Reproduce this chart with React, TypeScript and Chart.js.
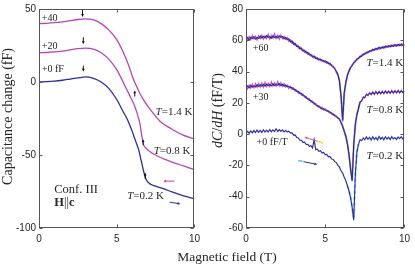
import React, { useEffect, useRef } from 'react';
import { Chart, registerables } from 'chart.js';

Chart.register(...registerables);

const SERIF = '"Liberation Serif", "DejaVu Serif", serif';
const SANS = '"Liberation Sans", Arial, sans-serif';
const INK = '#262626';
const BLUE = '#2b2d9e';
const MAGENTA = '#b545b8';
const PINK = '#c64fb2';
const CYAN = '#86d4f4';
const YELLOW = '#f1e24a';

// ---------- Left panel: capacitance change (fF) vs field (T) ----------
const L_X_14 = [0, 0.5, 1, 1.5, 2, 2.5, 3, 3.5, 4, 4.5, 5, 5.5, 5.8, 6.0, 6.15, 6.3, 6.5, 6.8, 7.2, 7.8, 8.5, 9.2, 10];
const L_Y_14 = [40, 40.2, 40.6, 41.2, 42, 42.8, 43.2, 42.5, 40, 35.5, 29, 18.5, 10.5, 4, 0, -3.5, -8, -13.5, -19.5, -27, -32, -36, -39];

const L_X_08 = [0, 0.5, 1, 1.5, 2, 2.5, 3, 3.5, 4, 4.5, 5, 5.5, 5.8, 6.1, 6.3, 6.5, 6.6, 6.7, 6.85, 7.0, 7.4, 8.0, 8.6, 9.3, 10];
const L_Y_08 = [20, 20.2, 20.6, 21.2, 22, 22.8, 23.2, 22.5, 20, 15.5, 8.5, -2, -8.5, -15, -21, -29, -36, -42, -45, -46.5, -49.5, -52.5, -55, -57.5, -60];

const L_X_02 = [0, 0.5, 1, 1.5, 2, 2.5, 3, 3.5, 4, 4.5, 5, 5.4, 5.7, 6.0, 6.2, 6.4, 6.6, 6.75, 6.9, 7.1, 7.4, 8.0, 8.6, 9.3, 10];
const L_Y_02 = [0, 0.2, 0.6, 1.2, 2, 2.8, 3.5, 2.5, 0, -4.5, -12, -20, -26, -34, -40, -46, -55, -62, -67, -69.5, -71, -73, -75.5, -78, -80];

const L_X_TICKS = [0, 5, 10];
const L_Y_TICKS = [-100, -50, 0, 50];

// ---------- Right panel: dC/dH (fF/T) vs field (T) ----------
const FIELD = [
  0, 0.1, 0.2, 0.3, 0.4, 0.5, 0.6, 0.7, 0.8, 0.9,
  1, 1.1, 1.2, 1.3, 1.4, 1.5, 1.6, 1.7, 1.8, 1.9,
  2, 2.1, 2.2, 2.3, 2.4, 2.5, 2.6, 2.7, 2.8, 2.9,
  3, 3.1, 3.2, 3.3, 3.4, 3.5, 3.6, 3.7, 3.8, 3.9,
  4, 4.1, 4.2, 4.3, 4.4, 4.5, 4.6, 4.7, 4.8, 4.9,
  5, 5.1, 5.2, 5.3, 5.4, 5.5, 5.6, 5.7, 5.8, 5.9,
  6, 6.1, 6.2, 6.3, 6.4, 6.5, 6.6, 6.7, 6.8, 6.9,
  7, 7.1, 7.2, 7.3, 7.4, 7.5, 7.6, 7.7, 7.8, 7.9,
  8, 8.1, 8.2, 8.3, 8.4, 8.5, 8.6, 8.7, 8.8, 8.9,
  9, 9.1, 9.2, 9.3, 9.4, 9.5, 9.6, 9.7, 9.8, 9.9,
  10,
];

// T = 1.4 K (+60), up sweep (blue) and down sweep (magenta)
const R_UP_14 = [
  60.5, 61.8, 60.2, 62.0, 61.0, 62.3, 60.8, 61.9, 61.2, 62.8,
  61.4, 62.5, 61.6, 63.0, 61.8, 62.4, 61.3, 62.9, 61.7, 62.6,
  61.5, 62.8, 61.9, 62.4, 60.9, 61.8, 60.3, 60.9, 59.0, 59.6,
  57.4, 58.0, 56.0, 56.4, 54.5, 55.0, 53.0, 53.6, 51.8, 52.3,
  50.6, 51.0, 49.3, 49.9, 48.4, 48.8, 47.4, 48.0, 46.7, 47.1,
  45.9, 46.5, 45.0, 45.3, 43.6, 43.4, 41.8, 40.2, 38.3, 33.6,
  24.5, 9.0, 26.5, 32.6, 37.9, 40.2, 42.9, 43.6, 45.9, 46.3,
  48.2, 48.2, 49.9, 49.7, 51.3, 51.0, 52.4, 52.0, 53.4, 52.9,
  54.3, 53.6, 54.9, 54.1, 55.6, 54.7, 55.9, 55.0, 56.3, 55.5,
  56.6, 55.8, 56.9, 56.1, 57.2, 56.3, 57.4, 56.5, 57.6, 56.6,
  57.3,
];
const R_DOWN_14 = [
  62.0, 59.8, 62.5, 60.4, 63.2, 60.9, 62.7, 60.1, 63.0, 61.0,
  63.4, 60.7, 62.9, 61.1, 64.0, 60.8, 63.1, 61.2, 64.2, 61.0,
  63.3, 60.6, 63.5, 61.0, 62.6, 60.5, 61.8, 59.2, 60.3, 57.9,
  58.9, 56.6, 57.3, 55.0, 55.9, 53.7, 54.3, 52.3, 53.0, 51.0,
  51.7, 49.8, 50.4, 48.6, 49.4, 47.6, 48.5, 46.9, 47.6, 46.2,
  47.0, 45.2, 45.9, 44.2, 44.6, 42.4, 42.3, 39.6, 37.6, 34.5,
  23.5, 8.0, 25.5, 33.5, 37.0, 41.0, 42.0, 44.6, 45.1, 47.2,
  47.3, 49.1, 48.9, 50.7, 50.4, 51.9, 51.5, 53.0, 52.5, 53.8,
  53.2, 54.6, 53.8, 55.2, 54.3, 55.6, 54.9, 56.1, 55.2, 56.5,
  55.6, 56.8, 55.9, 57.1, 56.2, 57.3, 56.4, 57.6, 56.5, 57.7,
  56.6,
];

// T = 0.8 K (+30)
const R_UP_08 = [
  29.5, 30.8, 29.6, 31.2, 30.0, 31.0, 30.2, 31.6, 30.4, 31.5,
  30.6, 31.8, 30.7, 32.0, 30.9, 31.8, 30.8, 32.2, 31.0, 32.0,
  31.2, 32.3, 31.0, 31.9, 30.6, 31.4, 30.2, 30.7, 29.6, 29.9,
  28.6, 28.7, 27.3, 27.4, 25.9, 26.0, 24.6, 24.5, 23.0, 22.9,
  21.6, 21.5, 20.1, 20.0, 18.6, 18.4, 17.2, 17.3, 16.0, 16.3,
  15.2, 15.4, 14.2, 14.3, 13.0, 13.0, 11.7, 11.6, 10.1, 9.8,
  7.2, 5.3, 1.6, -1.2, -6.3, -12.8, -22.5, -30.0, -6.5, 6.4,
  12.3, 16.6, 20.3, 21.5, 23.4, 23.6, 25.3, 25.0, 26.2, 25.5,
  26.6, 25.7, 26.9, 25.9, 27.0, 26.0, 27.1, 26.2, 27.3, 26.3,
  27.2, 26.4, 27.5, 26.5, 27.4, 26.6, 27.7, 26.7, 27.6, 26.8,
  27.4,
];
const R_DOWN_08 = [
  31.0, 28.8, 31.5, 29.3, 32.0, 29.6, 32.3, 29.8, 32.5, 30.1,
  32.8, 30.0, 33.2, 30.3, 32.6, 30.4, 33.5, 30.6, 32.9, 30.7,
  33.6, 30.8, 32.9, 30.5, 32.4, 30.1, 31.5, 29.1, 30.6, 28.6,
  29.5, 27.4, 28.2, 26.1, 26.9, 24.9, 25.6, 23.6, 24.1, 22.0,
  22.7, 20.6, 21.1, 19.1, 19.6, 17.6, 18.3, 16.5, 17.1, 15.5,
  16.2, 14.6, 15.0, 13.5, 13.8, 12.2, 12.4, 10.8, 10.7, 9.0,
  7.8, 4.6, 2.3, -1.8, -5.6, -13.5, -21.6, -29.0, -7.5, 5.6,
  12.9, 16.0, 20.8, 21.0, 23.9, 23.1, 25.8, 24.6, 26.6, 25.1,
  27.1, 25.3, 27.4, 25.5, 27.5, 25.6, 27.6, 25.8, 27.8, 25.9,
  27.7, 26.0, 28.0, 26.1, 27.9, 26.2, 28.1, 26.3, 28.0, 26.4,
  27.8,
];

// T = 0.2 K (+0)
const R_UP_02 = [
  0.5, 1.8, 0.6, 2.0, 0.9, 2.3, 1.0, 2.6, 1.2, 2.4,
  1.1, 2.8, 1.3, 2.5, 1.4, 3.0, 1.5, 2.7, 1.6, 3.4,
  1.7, 2.9, 1.8, 2.7, 1.5, 2.5, 1.3, 1.9, 0.6, 0.9,
  -0.6, -0.5, -2.1, -2.4, -3.9, -4.0, -5.3, -5.1, -6.6, -6.5,
  -7.8, -7.4, -8.9, -3.5, -9.8, -9.6, -11.0, -10.6, -12.1, -11.7,
  -13.2, -12.9, -14.5, -14.3, -15.9, -16.0, -17.6, -18.2, -20.0, -21.1,
  -23.4, -24.9, -27.6, -29.8, -33.0, -36.2, -40.5, -46.8, -55.0, -26.0,
  -11.5, -6.5, -3.5, -4.2, -2.4, -3.6, -1.8, -3.3, -2.0, -3.7,
  -1.6, -3.4, -2.1, -3.8, -1.5, -3.2, -2.0, -3.6, -1.7, -3.1,
  -1.9, -3.5, -1.6, -3.0, -2.2, -3.4, -1.8, -2.9, -1.6, -3.1,
  -2.0,
];

// fits around the anomalies (dashed)
const FIT_X_14 = [5.7, 5.8, 5.9, 6.0, 6.1, 6.2, 6.3, 6.4, 6.5, 6.6];
const FIT_Y_14 = [40, 37.8, 34, 24, 8.5, 26, 33, 37.5, 40.5, 42.5];
const FIT_X_08 = [6.0, 6.1, 6.2, 6.3, 6.4, 6.5, 6.6, 6.7, 6.8, 6.9, 7.0, 7.1, 7.2];
const FIT_Y_08 = [7.5, 5, 2, -1.5, -6, -13, -22, -29.5, -7, 6, 12.5, 16.5, 20.5];
const FIT_X_02 = [6.4, 6.5, 6.6, 6.7, 6.8, 6.9, 7.0, 7.1];
const FIT_Y_02 = [-33, -36, -40.5, -47, -54.5, -26, -11, -6.5];

const R_X_TICKS = [0, 5, 10];
const R_Y_TICKS = [-60, -40, -20, 0, 20, 40, 60, 80];

// ---------- annotations ----------
type Seg = { t: string; s?: 'i' | 'b' };
type Label = { x: number; y: number; segs: Seg[]; size: number };
type Arrow = { x1: number; y1: number; x2: number; y2: number; color: string; tailColor?: string; tailFrac?: number };

const L_LABELS: Label[] = [
  { x: 0.18, y: 42.0, segs: [{ t: '+40' }], size: 10 },
  { x: 0.18, y: 22.5, segs: [{ t: '+20' }], size: 10 },
  { x: 0.18, y: 7.1, segs: [{ t: '+0 fF' }], size: 10 },
  { x: 7.5, y: -22.3, segs: [{ t: 'T', s: 'i' }, { t: '=1.4 K' }], size: 11 },
  { x: 7.38, y: -49.1, segs: [{ t: 'T', s: 'i' }, { t: '=0.8 K' }], size: 11 },
  { x: 5.67, y: -79.9, segs: [{ t: 'T', s: 'i' }, { t: '=0.2 K' }], size: 11 },
  { x: 0.98, y: -75.9, segs: [{ t: 'Conf. III' }], size: 12.5 },
  { x: 0.98, y: -84.6, segs: [{ t: 'H', s: 'b' }, { t: '||' }, { t: 'c', s: 'b' }], size: 12.5 },
];
const R_LABELS: Label[] = [
  { x: 0.43, y: 53.1, segs: [{ t: '+60' }], size: 10 },
  { x: 0.43, y: 21.9, segs: [{ t: '+30' }], size: 10 },
  { x: 0.67, y: -6.9, segs: [{ t: '+0 fF/T' }], size: 10 },
  { x: 7.6, y: 43.75, segs: [{ t: 'T', s: 'i' }, { t: '=1.4 K' }], size: 11 },
  { x: 7.6, y: 13.75, segs: [{ t: 'T', s: 'i' }, { t: '=0.8 K' }], size: 11 },
  { x: 7.6, y: -15.6, segs: [{ t: 'T', s: 'i' }, { t: '=0.2 K' }], size: 11 },
];

const L_ARROWS: Arrow[] = [
  { x1: 2.8, y1: 49.3, x2: 2.8, y2: 44.6, color: '#111' },
  { x1: 2.85, y1: 30.6, x2: 2.85, y2: 25.9, color: '#111' },
  { x1: 2.85, y1: 11.2, x2: 2.85, y2: 7.1, color: '#111' },
  { x1: 6.16, y1: -10.0, x2: 6.16, y2: -5.8, color: '#111' },
  { x1: 6.7, y1: -43.3, x2: 6.7, y2: -39.2, color: '#111' },
  { x1: 6.83, y1: -66.2, x2: 6.83, y2: -62.0, color: '#111' },
  { x1: 8.72, y1: -67.9, x2: 7.99, y2: -67.9, color: MAGENTA },
  { x1: 8.41, y1: -82.3, x2: 9.1, y2: -83.5, color: BLUE },
];
const R_ARROWS: Arrow[] = [
  { x1: 4.85, y1: -5.6, x2: 3.68, y2: -1.9, color: PINK, tailColor: YELLOW, tailFrac: 0.3 },
  { x1: 3.3, y1: -16.9, x2: 4.5, y2: -19.4, color: BLUE, tailColor: CYAN, tailFrac: 0.3 },
];

// ---------- helpers ----------
function pts(xs: number[], ys: number[]) {
  return xs.map((x, i) => ({ x, y: ys[i] }));
}

function fontFor(seg: Seg, size: number) {
  return `${seg.s === 'i' ? 'italic ' : ''}${seg.s === 'b' ? 'bold ' : ''}${size}px ${SERIF}`;
}

function drawSegs(ctx: CanvasRenderingContext2D, segs: Seg[], x: number, y: number, size: number, align: 'left' | 'center') {
  const widths = segs.map((s) => {
    ctx.font = fontFor(s, size);
    return ctx.measureText(s.t).width;
  });
  const total = widths.reduce((a, b) => a + b, 0);
  let cx = align === 'center' ? x - total / 2 : x;
  ctx.textAlign = 'left';
  segs.forEach((s, i) => {
    ctx.font = fontFor(s, size);
    ctx.fillText(s.t, cx, y);
    cx += widths[i];
  });
}

function drawArrow(ctx: CanvasRenderingContext2D, x1: number, y1: number, x2: number, y2: number, color: string, width: number, head: number) {
  const ang = Math.atan2(y2 - y1, x2 - x1);
  ctx.strokeStyle = color;
  ctx.fillStyle = color;
  ctx.lineWidth = width;
  ctx.beginPath();
  ctx.moveTo(x1, y1);
  ctx.lineTo(x2 - Math.cos(ang) * head * 0.6, y2 - Math.sin(ang) * head * 0.6);
  ctx.stroke();
  ctx.beginPath();
  ctx.moveTo(x2, y2);
  ctx.lineTo(x2 - head * Math.cos(ang - 0.45), y2 - head * Math.sin(ang - 0.45));
  ctx.lineTo(x2 - head * Math.cos(ang + 0.45), y2 - head * Math.sin(ang + 0.45));
  ctx.closePath();
  ctx.fill();
}

const decorPlugin = {
  id: 'decor',
  beforeDraw(chart: any) {
    const { ctx, width, height } = chart;
    ctx.save();
    ctx.fillStyle = '#ffffff';
    ctx.fillRect(0, 0, width, height);
    ctx.restore();
  },
  afterDatasetsDraw(chart: any, _args: any, opts: any) {
    const ctx: CanvasRenderingContext2D = chart.ctx;
    const xs = chart.scales.x;
    const ys = chart.scales.y;
    const { left, right, top, bottom } = chart.chartArea;
    ctx.save();
    // frame
    const L = Math.round(left) + 0.5;
    const R = Math.round(right) - 0.5;
    const T = Math.round(top) + 0.5;
    const B = Math.round(bottom) - 0.5;
    ctx.strokeStyle = '#555555';
    ctx.lineWidth = 1;
    ctx.strokeRect(L, T, R - L, B - T);
    // inward ticks
    const tl = 3;
    ctx.beginPath();
    xs.ticks.forEach((t: any) => {
      const p = Math.round(xs.getPixelForValue(t.value)) + 0.5;
      ctx.moveTo(p, B); ctx.lineTo(p, B - tl);
      ctx.moveTo(p, T); ctx.lineTo(p, T + tl);
    });
    ys.ticks.forEach((t: any) => {
      const p = Math.round(ys.getPixelForValue(t.value)) + 0.5;
      ctx.moveTo(L, p); ctx.lineTo(L + tl, p);
      ctx.moveTo(R, p); ctx.lineTo(R - tl, p);
    });
    ctx.stroke();

    // labels
    ctx.fillStyle = INK;
    ctx.textBaseline = 'alphabetic';
    (opts.labels || []).forEach((lb: Label) => {
      drawSegs(ctx, lb.segs, xs.getPixelForValue(lb.x), ys.getPixelForValue(lb.y), lb.size, 'left');
    });

    // arrows
    (opts.arrows || []).forEach((a: Arrow) => {
      const x1 = xs.getPixelForValue(a.x1), y1 = ys.getPixelForValue(a.y1);
      const x2 = xs.getPixelForValue(a.x2), y2 = ys.getPixelForValue(a.y2);
      drawArrow(ctx, x1, y1, x2, y2, a.color, 1, 3.2);
      if (a.tailColor) {
        const f = a.tailFrac || 0.3;
        ctx.strokeStyle = a.tailColor;
        ctx.lineWidth = 1.6;
        ctx.beginPath();
        ctx.moveTo(x1, y1);
        ctx.lineTo(x1 + (x2 - x1) * f, y1 + (y2 - y1) * f);
        ctx.stroke();
      }
    });

    // y title
    if (opts.yTitle) {
      ctx.fillStyle = INK;
      ctx.translate(opts.yTitle.x, (top + bottom) / 2 + (opts.yTitle.dy || 0));
      ctx.rotate(-Math.PI / 2);
      ctx.textBaseline = 'middle';
      drawSegs(ctx, opts.yTitle.segs, 0, 0, opts.yTitle.size, 'center');
    }
    ctx.restore();
  },
};

function baseOptions(xTicks: number[], yTicks: number[], yWidth: number, padRight: number, decor: any) {
  const tickFont = { family: SANS, size: 10 };
  return {
    responsive: false,
    animation: false as const,
    layout: { padding: { top: 4, right: padRight, bottom: 0, left: 0 }, autoPadding: false },
    elements: { point: { radius: 0, hoverRadius: 0 }, line: { tension: 0 } },
    plugins: { legend: { display: false }, tooltip: { enabled: false }, decor },
    scales: {
      x: {
        type: 'linear' as const,
        min: xTicks[0],
        max: xTicks[xTicks.length - 1],
        afterBuildTicks: (s: any) => { s.ticks = xTicks.map((v) => ({ value: v })); },
        ticks: { font: tickFont, color: INK, padding: 5, maxRotation: 0 },
        grid: { display: false, drawTicks: false },
        border: { display: false },
        afterFit: (s: any) => { s.height = 38; },
      },
      y: {
        type: 'linear' as const,
        min: yTicks[0],
        max: yTicks[yTicks.length - 1],
        afterBuildTicks: (s: any) => { s.ticks = yTicks.map((v) => ({ value: v })); },
        ticks: { font: tickFont, color: INK, padding: 3 },
        grid: { display: false, drawTicks: false },
        border: { display: false },
        afterFit: (s: any) => { s.width = yWidth; },
      },
    },
  };
}

function smooth(xs: number[], ys: number[], color: string) {
  return {
    data: pts(xs, ys),
    showLine: true,
    borderColor: color,
    borderWidth: 1.3,
    cubicInterpolationMode: 'monotone' as const,
    pointRadius: 0,
  };
}

function noisy(ys: number[], color: string, width = 1.15) {
  return {
    data: pts(FIELD, ys),
    showLine: true,
    borderColor: color,
    borderWidth: width,
    pointRadius: 0,
  };
}

function dashed(xs: number[], ys: number[], color: string, offset: number) {
  return {
    data: pts(xs, ys),
    showLine: true,
    borderColor: color,
    borderWidth: 2.2,
    borderDash: [3, 3],
    borderDashOffset: offset,
    pointRadius: 0,
  };
}

export default function App() {
  const leftRef = useRef<HTMLCanvasElement>(null);
  const rightRef = useRef<HTMLCanvasElement>(null);

  useEffect(() => {
    const left = new Chart(leftRef.current as HTMLCanvasElement, {
      type: 'scatter',
      data: {
        datasets: [
          smooth(L_X_02, L_Y_02, BLUE),
          smooth(L_X_08, L_Y_08, MAGENTA),
          smooth(L_X_14, L_Y_14, MAGENTA),
        ],
      },
      options: baseOptions(L_X_TICKS, L_Y_TICKS, 39, 2, {
        labels: L_LABELS,
        arrows: L_ARROWS,
        yTitle: { x: 8, dy: -2, size: 14, segs: [{ t: 'Capacitance change (fF)' }] },
      }) as any,
      plugins: [decorPlugin],
    });

    const right = new Chart(rightRef.current as HTMLCanvasElement, {
      type: 'scatter',
      data: {
        datasets: [
          noisy(R_UP_02, BLUE),
          noisy(R_UP_08, BLUE),
          noisy(R_DOWN_08, PINK),
          noisy(R_UP_14, BLUE),
          noisy(R_DOWN_14, PINK),
          dashed(FIT_X_02, FIT_Y_02, CYAN, 0),
          dashed(FIT_X_08, FIT_Y_08, CYAN, 0),
          dashed(FIT_X_08, FIT_Y_08, YELLOW, 3),
          dashed(FIT_X_14, FIT_Y_14, CYAN, 0),
          dashed(FIT_X_14, FIT_Y_14, YELLOW, 3),
        ],
      },
      options: baseOptions(R_X_TICKS, R_Y_TICKS, 41, 6, {
        labels: R_LABELS,
        arrows: R_ARROWS,
        yTitle: {
          x: 13, dy: -8, size: 14,
          segs: [{ t: 'dC', s: 'i' }, { t: '/' }, { t: 'dH', s: 'i' }, { t: ' (fF/T)' }],
        },
      }) as any,
      plugins: [decorPlugin],
    });

    return () => {
      left.destroy();
      right.destroy();
    };
  }, []);

  return (
    <div style={{ position: 'absolute', left: 0, top: 0, width: 415, height: 266, background: '#fff', overflow: 'hidden' }}>
      <canvas ref={leftRef} width={205} height={266} style={{ position: 'absolute', left: 0, top: 0, display: 'block' }} />
      <canvas ref={rightRef} width={210} height={266} style={{ position: 'absolute', left: 205, top: 0, display: 'block' }} />
      <div
        style={{
          position: 'absolute', left: 127, top: 250, width: 200, textAlign: 'center',
          fontFamily: SERIF, fontSize: 13.5, lineHeight: '13px', color: INK, whiteSpace: 'nowrap',
        }}
      >
        Magnetic field (T)
      </div>
    </div>
  );
}
